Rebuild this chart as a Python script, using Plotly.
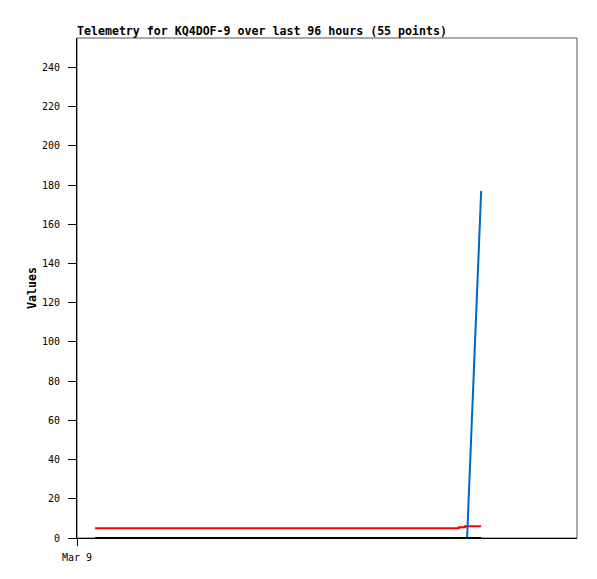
import plotly.graph_objects as go

# ---- data ----
times = [
    "2024-03-09 03:28",
    "2024-03-10 12:00",
    "2024-03-11 12:00",
    "2024-03-12 01:18",
    "2024-03-12 02:30",
    "2024-03-12 02:54",
    "2024-03-12 05:36",
]
series_black = [0, 0, 0, 0, 0, 0, 0]
series_red = [5, 5, 5, 5.5, 6, 6, 6]
series_blue = [None, None, None, None, None, 0, 177]

x_start = "2024-03-09 00:00"
x_end = "2024-03-13 00:00"
y_tick_vals = list(range(0, 241, 20))
x_tick_vals = ["2024-03-09 00:00"]
x_tick_text = ["Mar 9"]

title_text = "Telemetry for KQ4DOF-9 over last 96 hours (55 points)"

MONO = "DejaVu Sans Mono"

fig = go.Figure()
fig.add_trace(go.Scatter(x=times, y=series_red, mode="lines",
                         line=dict(color="#ff0000", width=2, shape="hv"),
                         showlegend=False))
fig.add_trace(go.Scatter(x=times, y=series_blue, mode="lines",
                         line=dict(color="#0066cc", width=2),
                         showlegend=False))
fig.add_trace(go.Scatter(x=times, y=series_black, mode="lines",
                         line=dict(color="#000000", width=2),
                         showlegend=False))

fig.update_layout(
    width=597, height=579,
    margin=dict(l=77, r=20, t=38, b=41),
    paper_bgcolor="white", plot_bgcolor="white",
    title=dict(text=title_text, x=77 / 597, xanchor="left",
               y=1 - 31 / 579, yanchor="middle",
               font=dict(family=MONO, size=11.6, color="black", weight="bold")),
    xaxis=dict(type="date", range=[x_start, x_end],
               tickmode="array", tickvals=x_tick_vals, ticktext=x_tick_text,
               showgrid=False, zeroline=False,
               showline=True, linecolor="black", linewidth=1,
               ticks="outside", ticklen=7, tickcolor="black", tickwidth=1,
               ticklabelstandoff=3,
               tickfont=dict(family=MONO, size=10, color="black")),
    yaxis=dict(range=[0, 255], tickmode="array", tickvals=y_tick_vals,
               showgrid=False, zeroline=False,
               showline=True, linecolor="black", linewidth=1,
               ticks="outside", ticklen=8, tickcolor="black", tickwidth=1,
               ticklabelstandoff=6,
               tickfont=dict(family=MONO, size=10, color="black")),
    shapes=[dict(type="rect", xref="paper", yref="paper", x0=0, x1=1, y0=0, y1=1,
                 line=dict(color="#555555", width=1), layer="below")],
    annotations=[dict(text="Values", xref="paper", yref="paper",
                      x=(32 - 77) / 500, y=0.5, showarrow=False, textangle=-90,
                      xanchor="center", yanchor="middle",
                      font=dict(family=MONO, size=11.6, color="black", weight="bold"))],
)

fig.write_html("out.html", config={"displayModeBar": False},
               post_script="document.body.style.margin='0';")
